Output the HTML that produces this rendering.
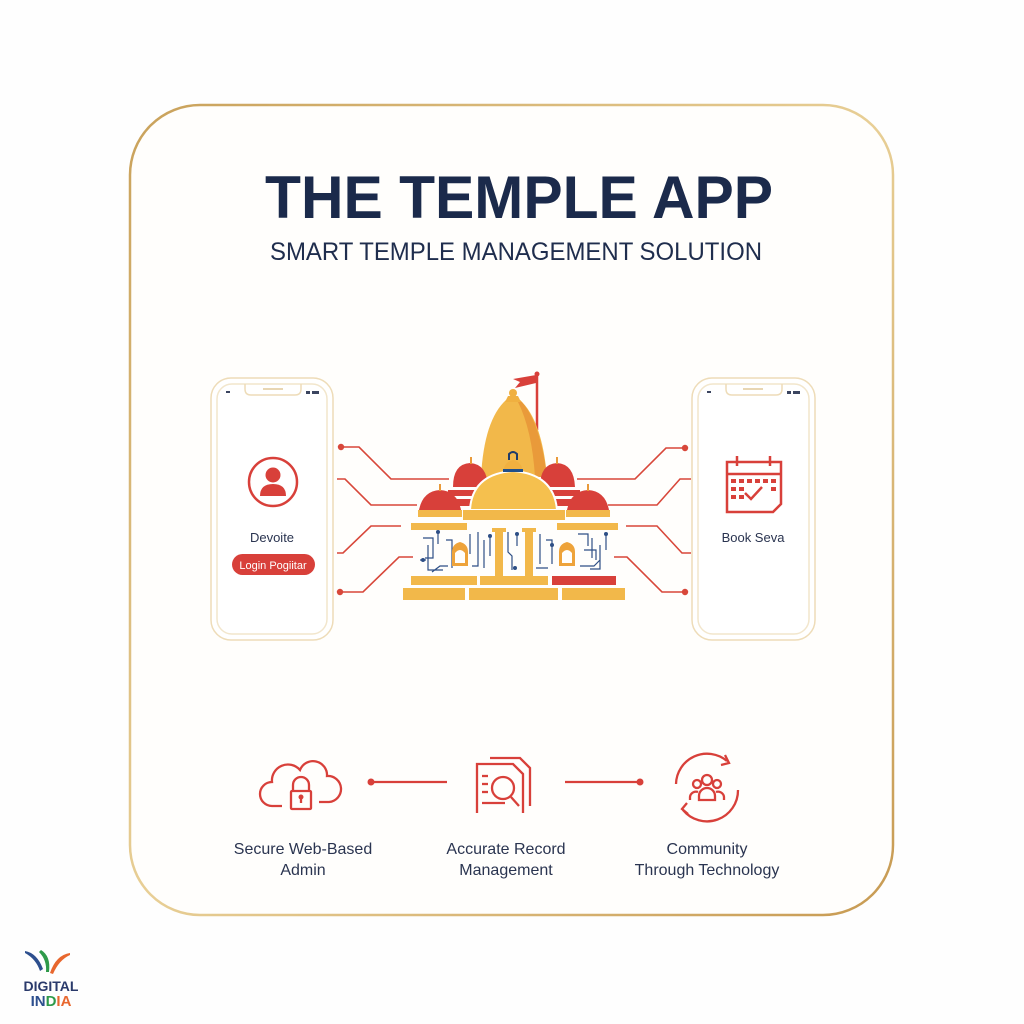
<!DOCTYPE html>
<html><head><meta charset="utf-8"><style>
html,body{margin:0;padding:0;background:#fefefe;}
svg{display:block;font-family:"Liberation Sans",sans-serif;}
</style></head><body>
<svg width="1024" height="1024" viewBox="0 0 1024 1024" xmlns="http://www.w3.org/2000/svg">
<defs>
<linearGradient id="gold" x1="0" y1="0" x2="1" y2="1">
<stop offset="0" stop-color="#c9a15a"/><stop offset="0.5" stop-color="#e8cf96"/><stop offset="1" stop-color="#c79a52"/>
</linearGradient>
</defs>
<rect width="1024" height="1024" fill="#fefefe"/>
<rect x="130" y="105" width="763" height="810" rx="70" fill="#fffefc" stroke="url(#gold)" stroke-width="2.5"/>

<text x="519" y="218" text-anchor="middle" font-size="60" font-weight="bold" fill="#1b2a4b" textLength="508" lengthAdjust="spacingAndGlyphs">THE TEMPLE APP</text>
<text x="516" y="260" text-anchor="middle" font-size="25" fill="#1f2d4d" textLength="492" lengthAdjust="spacingAndGlyphs">SMART TEMPLE MANAGEMENT SOLUTION</text>

<!-- phones -->
<g fill="#fff" stroke="#eedcb8" stroke-width="1.5">
<rect x="211" y="378" width="122" height="262" rx="20"/>
<rect x="217" y="384" width="110" height="250" rx="15" stroke="#f2e6cc"/>
<rect x="692" y="378" width="123" height="262" rx="20"/>
<rect x="698" y="384" width="111" height="250" rx="15" stroke="#f2e6cc"/>
</g>
<g fill="none" stroke="#eedcb8" stroke-width="1.5">
<path d="M245 384 v5 q0 6 6 6 h44 q6 0 6-6 v-5"/>
<path d="M726 384 v5 q0 6 6 6 h44 q6 0 6-6 v-5"/>
</g>
<g stroke="#e0c89a" stroke-width="1.5"><line x1="263" y1="389" x2="283" y2="389"/><line x1="743" y1="389" x2="763" y2="389"/></g>
<g fill="#3b4560">
<rect x="226" y="391" width="4" height="2"/><rect x="312" y="391" width="7" height="3"/><rect x="306" y="391" width="4" height="3"/>
<rect x="707" y="391" width="4" height="2"/><rect x="793" y="391" width="7" height="3"/><rect x="787" y="391" width="4" height="3"/>
</g>
<!-- left phone content -->
<circle cx="273" cy="482" r="24" fill="none" stroke="#d8403a" stroke-width="2.5"/>
<circle cx="273" cy="475" r="7.5" fill="#d8403a"/>
<path d="M260 496 q0-12 13-12 q13 0 13 12 z" fill="#d8403a"/>
<text x="272" y="542" text-anchor="middle" font-size="13" fill="#2a3450">Devoite</text>
<rect x="232" y="554" width="83" height="21" rx="10.5" fill="#d8403a"/>
<text x="273" y="569" text-anchor="middle" font-size="11" fill="#fff">Login Pogiitar</text>
<!-- right phone content -->
<g fill="none" stroke="#d8403a" stroke-width="2.5">
<path d="M727 462 h54 v42 l-8 8 h-46 z"/>
<line x1="727" y1="474" x2="781" y2="474"/>
<line x1="737" y1="456" x2="737" y2="466"/><line x1="770" y1="456" x2="770" y2="466"/>
<path d="M745 493 l6 6 l11-12"/>
</g>
<g fill="#d8403a">
<rect x="731" y="479" width="5" height="4"/><rect x="739" y="479" width="5" height="4"/><rect x="747" y="479" width="5" height="4"/><rect x="755" y="479" width="5" height="4"/><rect x="763" y="479" width="5" height="4"/><rect x="771" y="479" width="5" height="4"/>
<rect x="731" y="487" width="5" height="4"/><rect x="739" y="487" width="5" height="4"/><rect x="771" y="487" width="5" height="4"/>
<rect x="731" y="495" width="5" height="4"/><rect x="739" y="495" width="5" height="4"/>
</g>
<text x="753" y="542" text-anchor="middle" font-size="13" fill="#2a3450">Book Seva</text>

<!-- connectors -->
<g fill="none" stroke="#d8473a" stroke-width="1.6">
<path d="M341 447 H359 L391 479 H449"/>
<path d="M337 479 H345 L371 505 H417"/>
<path d="M337 553 H343 L371 526 H401"/>
<path d="M340 592 H363 L399 557 H413"/>
<path d="M685 448 H666 L635 479 H577"/>
<path d="M691 479 H680 L657 505 H608"/>
<path d="M691 553 H682 L657 526 H626"/>
<path d="M685 592 H662 L627 557 H614"/>
</g>
<g fill="#d8473a"><circle cx="341" cy="447" r="3.2"/><circle cx="340" cy="592" r="3.2"/><circle cx="685" cy="448" r="3.2"/><circle cx="685" cy="592" r="3.2"/></g>

<!-- temple -->
<line x1="537" y1="373" x2="537" y2="430" stroke="#d8403a" stroke-width="2.5"/>
<circle cx="537" cy="374" r="2.5" fill="#d8403a"/>
<path d="M536 375 L513 379 L520 382 L515 388 L536 383 z" fill="#d8403a"/>
<path d="M481 477 Q484 420 506 400 h14 Q542 420 547 477 z" fill="#f2b84a"/>
<path d="M520 400 Q540 420 547 477 h-12 Q532 430 518 402z" fill="#e99a3a"/>
<path d="M505 402 h16 l-3 -6 h-10 z" fill="#f0b040"/>
<circle cx="513" cy="393" r="4" fill="#f0b040"/>
<!-- upper red domes -->
<path d="M453 487 Q453 464 470 463 Q487 464 488 487 z" fill="#d8403a"/>
<path d="M540 487 Q540 464 557 463 Q574 464 575 487 z" fill="#d8403a"/>
<rect x="470" y="457" width="2" height="7" fill="#e99a3a"/><rect x="556" y="457" width="2" height="7" fill="#e99a3a"/>
<rect x="448" y="490" width="40" height="6" fill="#d8403a"/><rect x="455" y="499" width="30" height="7" fill="#d8403a"/>
<rect x="540" y="490" width="40" height="6" fill="#d8403a"/><rect x="543" y="499" width="30" height="7" fill="#d8403a"/>
<!-- central dome -->
<path d="M470 510 Q472 474 513 471 Q554 474 557 510 z" fill="#f5c04e" stroke="#fff" stroke-width="2"/>
<path d="M503 472 Q504 462 513 460 Q522 462 523 472 z" fill="#f0b040"/>
<rect x="503" y="469" width="20" height="3" fill="#1f4f8a"/>
<path d="M509 460 v-6 q4-4 8 0 v6" fill="none" stroke="#1f3b6a" stroke-width="2"/>
<!-- lower red domes -->
<path d="M418 517 Q420 491 440 490 Q460 491 462 517 z" fill="#d8403a"/>
<path d="M566 517 Q568 491 588 490 Q608 491 610 517 z" fill="#d8403a"/>
<rect x="418" y="510" width="44" height="7" fill="#f2b84a"/><rect x="566" y="510" width="44" height="7" fill="#f2b84a"/>
<rect x="439" y="484" width="2" height="7" fill="#e99a3a"/><rect x="587" y="484" width="2" height="7" fill="#e99a3a"/>
<!-- cornices -->
<rect x="463" y="510" width="102" height="10" fill="#f2b84a"/>
<rect x="411" y="523" width="56" height="7" fill="#f2b84a"/>
<rect x="557" y="523" width="61" height="7" fill="#f2b84a"/>
<!-- circuits -->
<g fill="none" stroke="#2e4f86" stroke-width="1.2">
<path d="M423 538 h10 v20 h-8 M428 545 v25 h15 M438 532 v12 M446 540 h6 v28 M420 560 h6 M432 572 l8-6 h8"/>
<path d="M470 534 v20 M478 532 v34 h-6 M484 540 v28 M490 536 v20"/>
<path d="M508 532 v20 l4 4 v14 M517 534 v12 M540 534 v30 M546 540 h6 v24 M536 568 h12"/>
<path d="M578 534 h10 v12 M584 550 h12 v10 M592 538 v20 M600 545 v24 h-10 M606 534 v16 M580 566 h14 l6 -6"/>
</g>
<g fill="#2e4f86"><circle cx="438" cy="532" r="2"/><circle cx="490" cy="536" r="2"/><circle cx="517" cy="534" r="2"/><circle cx="606" cy="534" r="2"/><circle cx="423" cy="560" r="2"/><circle cx="515" cy="568" r="2"/><circle cx="552" cy="545" r="2"/></g>
<!-- pillars & arches -->
<rect x="495" y="528" width="8" height="49" fill="#f2b84a"/><rect x="492" y="528" width="14" height="4" fill="#f2b84a"/>
<rect x="525" y="528" width="8" height="49" fill="#f2b84a"/><rect x="522" y="528" width="14" height="4" fill="#f2b84a"/>
<path d="M452 566 v-14 q0-8 8-10 q8 2 8 10 v14 z M455 563 h10 v-10 q-5-6-10 0z" fill="#eea33a" fill-rule="evenodd"/>
<path d="M559 566 v-14 q0-8 8-10 q8 2 8 10 v14 z M562 563 h10 v-10 q-5-6-10 0z" fill="#eea33a" fill-rule="evenodd"/>
<!-- base -->
<rect x="411" y="576" width="66" height="9" fill="#f2b84a"/>
<rect x="480" y="576" width="68" height="9" fill="#f2b84a"/>
<rect x="552" y="576" width="64" height="9" fill="#d8403a"/>
<rect x="403" y="588" width="62" height="12" fill="#f2b84a"/>
<rect x="469" y="588" width="89" height="12" fill="#f2b84a"/>
<rect x="562" y="588" width="63" height="12" fill="#f2b84a"/>

<!-- bottom icons -->
<g fill="none" stroke="#d8403a" stroke-width="2.3">
<path d="M282 806 h-10 a12 12 0 0 1 0-24 a16 16 0 0 1 28-12 a14 14 0 0 1 27 6 a13 13 0 0 1 2 26 h-10"/>
<path d="M293 791 v-6 a8 8 0 0 1 16 0 v6"/>
<rect x="291" y="791" width="20" height="18" rx="1"/>
<line x1="301" y1="798" x2="301" y2="803"/>
<line x1="373" y1="782" x2="447" y2="782"/>
<line x1="565" y1="782" x2="638" y2="782"/>
<path d="M477 813 v-49 h36 l10 10 v39"/>
<path d="M490 758 h30 l10 10 v38"/>
<circle cx="503" cy="788" r="11"/>
<line x1="511" y1="797" x2="519" y2="806"/>
<line x1="482" y1="776" x2="488" y2="776"/><line x1="482" y1="784" x2="488" y2="784"/><line x1="482" y1="792" x2="488" y2="792"/><line x1="482" y1="803" x2="505" y2="803"/>
<path d="M676 784 a31 31 0 0 1 51 -23"/><path d="M738 790 a31 31 0 0 1 -55 20"/>
<path d="M725 755 l4 8 -8 2"/><path d="M688 814 l-6 -5 5 -6"/>
<circle cx="707" cy="780" r="5"/><circle cx="697" cy="784" r="4"/><circle cx="717" cy="784" r="4"/>
<path d="M699 800 v-4 a8 8 0 0 1 16 0 v4 z"/>
<path d="M690 800 v-3 a6 6 0 0 1 8-5"/><path d="M724 800 v-3 a6 6 0 0 0 -8-5"/>
</g>
<g fill="#d8403a"><circle cx="301" cy="797" r="2.5"/><circle cx="371" cy="782" r="3.5"/><circle cx="640" cy="782" r="3.5"/></g>
<g font-size="16" fill="#2a3450" text-anchor="middle">
<text x="303" y="854">Secure Web-Based</text><text x="303" y="875">Admin</text>
<text x="506" y="854">Accurate Record</text><text x="506" y="875">Management</text>
<text x="707" y="854">Community</text><text x="707" y="875">Through Technology</text>
</g>

<!-- Digital India logo -->
<path d="M25 951 q12 2 18 18 l-3 2 q-4-12-15-18z" fill="#2d4f8e"/>
<path d="M41 950 q10 6 8 22 l-3 0 q1-12-7-20z" fill="#2e9a4a"/>
<path d="M70 953 q-14 2-20 20 l3 1 q6-14 17-19z" fill="#e8672e"/>
<text x="51" y="991" text-anchor="middle" font-size="14" font-weight="bold" fill="#2a3a6b">DIGITAL</text>
<text x="51" y="1006" text-anchor="middle" font-size="15" font-weight="bold"><tspan fill="#2d4f8e">IN</tspan><tspan fill="#2e9a4a">D</tspan><tspan fill="#e8672e">IA</tspan></text>
</svg>
</body></html>
